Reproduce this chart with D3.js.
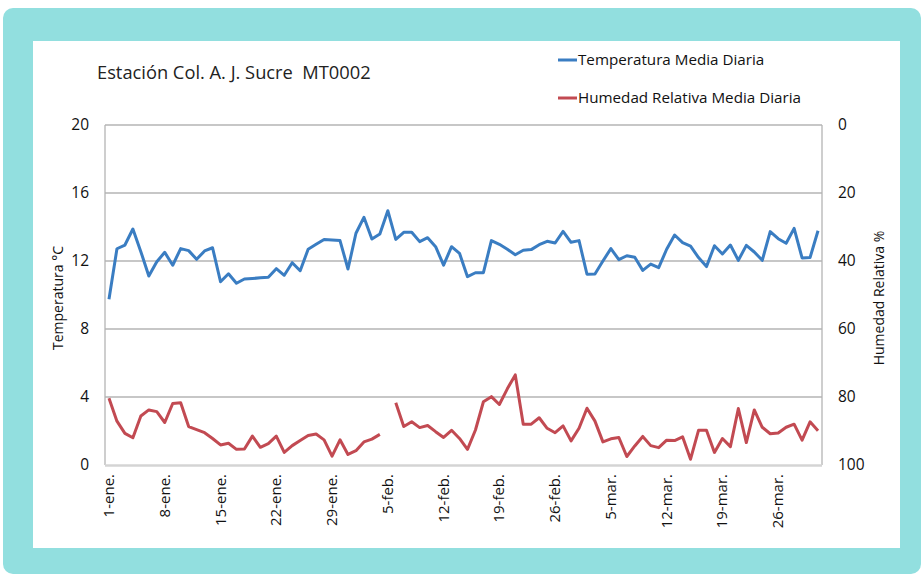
<!DOCTYPE html>
<html><head><meta charset="utf-8">
<script src="https://cdn.jsdelivr.net/npm/d3@7"></script>
<style>body{margin:0;background:#fff;}svg{display:block;font-family:"Open Sans",sans-serif;}</style>
</head><body><svg id="c" width="924" height="575"></svg>
<script>
const title = "Estación Col. A. J. Sucre  MT0002";
const seriesNames = ["Temperatura Media Diaria", "Humedad Relativa Media Diaria"];
const startDate = "2023-01-01";
const nDays = 90;
const tickLabels = ["1-ene.","8-ene.","15-ene.","22-ene.","29-ene.","5-feb.","12-feb.","19-feb.","26-feb.","5-mar.","12-mar.","19-mar.","26-mar."];
const leftTicks = [0,4,8,12,16,20];
const rightTicks = [0,20,40,60,80,100];
const temperatura = [9.75,12.72,12.94,13.88,12.55,11.12,11.96,12.51,11.75,12.73,12.61,12.1,12.59,12.78,10.78,11.25,10.69,10.94,10.97,11.01,11.04,11.55,11.16,11.9,11.43,12.69,12.98,13.27,13.24,13.2,
11.53,13.63,14.57,13.29,13.59,14.96,13.27,13.69,13.69,13.14,13.37,12.84,11.76,12.84,12.45,11.08,11.31,11.31,13.2,12.98,12.69,12.37,12.63,12.67,12.96,13.16,13.06,13.74,13.1,13.2,
11.22,11.24,12.0,12.73,12.08,12.31,12.22,11.45,11.82,11.61,12.69,13.53,13.08,12.88,12.2,11.67,12.9,12.41,12.94,12.04,12.92,12.53,12.04,13.73,13.31,13.04,13.92,12.18,12.2,13.78];
const humedad = [80.4,87.1,90.7,92.0,85.6,83.8,84.3,87.5,81.9,81.7,88.7,89.6,90.5,92.2,94.1,93.6,95.4,95.3,91.5,94.8,93.7,91.5,96.3,94.3,92.8,91.3,90.9,92.6,97.4,92.6,
96.9,95.8,93.2,92.4,91.0,null,81.7,88.7,87.3,89.0,88.4,90.2,91.9,89.8,92.2,95.4,89.7,81.4,79.9,82.2,77.6,73.5,88.0,88.0,86.1,89.2,90.5,88.5,92.9,89.2,
83.3,87.1,93.2,92.3,91.9,97.5,94.4,91.6,94.3,94.9,92.7,92.8,91.7,98.3,89.8,89.8,96.3,92.2,94.6,83.4,93.4,83.8,88.9,90.8,90.6,88.9,88.0,92.7,87.3,89.9];

const svg = d3.select("#c");
svg.append("rect").attr("x",3).attr("y",8).attr("width",918).attr("height",566).attr("rx",10).attr("fill","#92dfdf");
svg.append("rect").attr("x",33).attr("y",41).attr("width",867).attr("height",507).attr("fill","#fff");

const L=105,R=822,T=125,B=465;
const x = d3.scaleLinear().domain([0,nDays]).range([L,R]);
const yL = d3.scaleLinear().domain([0,20]).range([B,T]);
const yR = d3.scaleLinear().domain([0,100]).range([T,B]);

svg.append("g").selectAll("line").data(leftTicks.slice(1)).join("line")
  .attr("x1",L).attr("x2",R).attr("y1",d=>yL(d)).attr("y2",d=>yL(d))
  .attr("stroke","#b4b4b4").attr("stroke-width",1.3);
svg.append("line").attr("x1",L).attr("x2",L).attr("y1",T).attr("y2",B).attr("stroke","#b4b4b4").attr("stroke-width",1.3);
svg.append("line").attr("x1",R).attr("x2",R).attr("y1",T).attr("y2",B).attr("stroke","#b4b4b4").attr("stroke-width",1.3);
svg.append("line").attr("x1",L).attr("x2",R).attr("y1",B+0.5).attr("y2",B+0.5).attr("stroke","#d4d4d4").attr("stroke-width",2.5);

svg.append("g").selectAll("text").data(leftTicks).join("text")
  .attr("x",89).attr("y",d=>yL(d)).attr("dy","0.35em").attr("text-anchor","end")
  .attr("font-size",15.5).attr("fill","#111").text(d=>d);
svg.append("g").selectAll("text").data(rightTicks).join("text")
  .attr("x",838).attr("y",d=>yR(d)).attr("dy","0.35em").attr("text-anchor","start")
  .attr("font-size",15.5).attr("fill","#111").text(d=>d);

const tickIdx = tickLabels.map((t,k)=>k*7);
svg.append("g").selectAll("text").data(tickIdx).join("text")
  .attr("transform",(d)=>`translate(${x(d+0.5)+5},${B+9}) rotate(-90)`)
  .attr("text-anchor","end").attr("font-size",15).attr("fill","#111")
  .text((d,k)=>tickLabels[k]);

svg.append("text").attr("transform",`translate(63,${(T+B)/2+3}) rotate(-90)`).attr("text-anchor","middle")
  .attr("font-size",14).attr("fill","#111").text("Temperatura °C");
svg.append("text").attr("transform",`translate(884,${(T+B)/2+3}) rotate(-90)`).attr("text-anchor","middle")
  .attr("font-size",14).attr("fill","#111").text("Humedad Relativa %");

svg.append("text").attr("x",97).attr("y",79).attr("font-size",18.3).attr("fill","#222")
  .style("white-space","pre").attr("xml:space","preserve").text(title);

const legColors = ["#3a7dc2","#c24a52"];
seriesNames.forEach((n,k)=>{
  const ly = 60 + k*38;
  svg.append("line").attr("x1",558).attr("x2",577).attr("y1",ly).attr("y2",ly).attr("stroke",legColors[k]).attr("stroke-width",3);
  svg.append("text").attr("x",578).attr("y",ly).attr("dy","0.35em").attr("font-size",15.2).attr("fill","#111").text(n);
});

const lt = d3.line().x((d,i)=>x(i+0.5)).y(d=>yL(d));
svg.append("path").datum(temperatura).attr("d",lt).attr("fill","none").attr("stroke",legColors[0]).attr("stroke-width",3).attr("stroke-linejoin","round");
const lh = d3.line().defined(d=>d!=null).x((d,i)=>x(i+0.5)).y(d=>yR(d));
svg.append("path").datum(humedad).attr("d",lh).attr("fill","none").attr("stroke",legColors[1]).attr("stroke-width",3).attr("stroke-linejoin","round");
</script></body></html>
